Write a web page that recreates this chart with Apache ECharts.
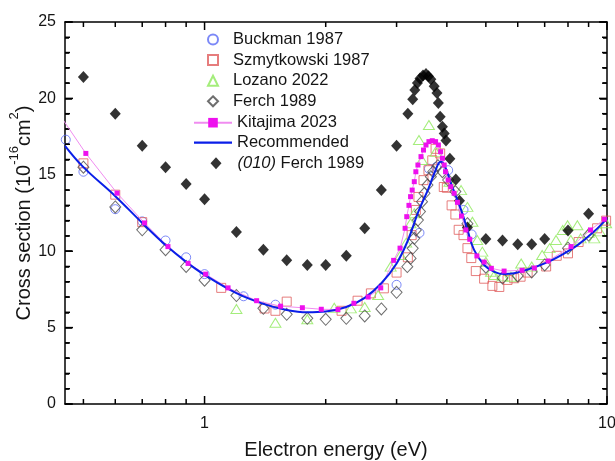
<!DOCTYPE html>
<html>
<head>
<meta charset="utf-8">
<script src="https://cdn.jsdelivr.net/npm/echarts@6/dist/echarts.min.js"></script>
<style>html,body{margin:0;padding:0;background:#fff}#c{width:615px;height:461px}</style>
</head>
<body>
<div id="c"></div>
<script>
// ---- data (energy in eV, cross section in 1e-16 cm^2) ----
const buckmanE = [0.452,0.5,0.6,0.7,0.8,0.9,1.0,1.25,1.5,3.0,3.42,3.61,3.76,4.03,4.4,4.61];
const buckmanS = [17.3,15.2,12.75,11.95,10.7,9.6,8.5,7.05,6.5,7.8,11.2,15.4,15.5,15.3,12.7,11.1];

const szmytE = [0.5,0.6,0.7,1.1,1.41,1.5,1.6,2.19,2.4,2.59,2.79,3.0,3.2,3.27,3.35,3.4,3.5,3.6,3.68,3.75,3.85,3.93,4.0,4.11,4.2,4.28,4.4,4.5,4.6,4.72,4.95,5.19,5.4,5.66,5.88,6.1,6.35,7.06,7.5,8.0,8.5,9.45,9.95];
const szmytS = [15.75,13.7,11.9,7.6,6.25,6.1,6.7,6.1,6.76,7.24,7.57,8.6,9.6,11.05,12.7,13.55,14.65,15.3,15.95,16.7,16.4,14.2,14.15,13.0,12.4,11.4,11.05,10.2,9.55,8.7,8.2,7.73,7.66,8.12,8.23,8.33,8.6,9.0,9.7,9.86,10.6,11.5,12.0];

const lozanoE = [1.2,1.5,1.8,2.1,2.31,2.5,2.7,2.9,3.07,3.17,3.25,3.32,3.41,3.47,3.61,3.75,4.06,4.34,4.5,4.63,4.76,4.9,5.0,5.15,5.25,5.5,5.77,6.12,6.5,6.9,7.2,7.47,7.76,7.98,8.13,8.44,8.6,9.0,9.3,9.6,9.95];
const lozanoS = [6.22,5.32,5.55,6.3,6.26,6.35,7.13,8.99,9.75,10.56,11.83,12.48,17.28,15.97,18.26,16.5,14.55,14.0,12.9,11.93,10.73,9.97,9.31,8.66,8.44,8.35,8.33,9.2,9.0,9.75,10.2,10.73,11.39,11.7,10.73,11.7,10.84,11.2,10.84,11.3,11.83];

const ferchE = [0.5,0.6,0.7,0.8,0.9,1.0,1.2,1.4,1.6,1.8,2.0,2.25,2.5,2.75,3.0,3.19,3.25,3.29,3.32,3.35,3.39,3.43,3.47,3.52,3.58,3.65,3.7,3.8,3.9,4.03,4.2,4.5,5.0,5.5,6.0,6.5,7.0,8.0,9.0];
const ferchS = [15.5,12.9,11.4,10.1,9.0,8.1,7.1,6.26,5.87,5.61,5.54,5.61,5.76,6.22,7.31,8.99,9.53,10.19,10.84,11.39,12.04,12.59,13.24,13.79,14.33,14.88,15.2,15.6,15.2,14.66,13.9,11.8,8.95,8.25,8.38,8.64,9.1,10.2,11.06];

const kitaE = [0.4,0.507,0.606,0.709,0.811,0.91,1.006,1.144,1.347,1.545,1.75,1.95,2.145,2.35,2.55,2.74,2.95,3.06,3.15,3.18,3.22,3.25,3.28,3.32,3.35,3.39,3.45,3.5,3.55,3.61,3.68,3.75,3.81,3.86,3.9,3.94,3.97,4.03,4.09,4.17,4.25,4.35,4.46,4.56,4.75,4.95,5.16,5.55,6.15,6.6,7.14,8.14,9.1,9.85];
const kitaS = [20.4,16.4,13.8,11.85,10.3,9.2,8.5,7.6,6.76,6.4,6.3,6.2,6.18,6.59,7.0,7.6,9.4,10.2,11.5,12.26,13.0,13.57,14.0,14.55,15.2,15.64,16.19,16.62,16.95,17.17,17.23,17.17,16.95,16.51,16.08,15.64,15.2,14.66,14.22,13.79,13.2,12.3,11.39,10.78,9.69,9.29,8.88,8.7,8.75,8.9,9.36,10.3,11.39,12.09];

const recE = [0.45,0.5,0.6,0.7,0.8,0.9,1.0,1.2,1.4,1.6,1.8,2.0,2.25,2.5,2.75,3.0,3.2,3.4,3.6,3.75,3.86,3.95,4.1,4.34,4.5,4.67,4.95,5.25,5.55,5.88,6.35,7.0,7.7,8.45,9.3,10];
const recS = [16.9,15.5,13.6,11.85,10.4,9.3,8.45,7.25,6.55,6.15,6.0,6.05,6.35,6.95,7.9,9.2,10.7,12.6,14.1,15.3,15.85,15.6,14.4,12.7,11.4,10.1,9.1,8.65,8.5,8.55,8.8,9.2,9.75,10.4,11.3,12.15];

const f010E = [0.5,0.6,0.7,0.8,0.9,1.0,1.2,1.4,1.6,1.8,2.0,2.25,2.5,2.75,3.0,3.2,3.29,3.33,3.38,3.43,3.49,3.55,3.6,3.65,3.72,3.78,3.81,3.85,3.9,3.94,3.98,4.07,4.21,4.3,4.5,5.0,5.5,6.0,6.5,7.0,8.0,9.0];
const f010S = [21.4,19.0,16.9,15.5,14.4,13.4,11.25,10.1,9.4,9.1,9.1,9.7,11.5,14.0,16.9,19.0,19.95,20.55,21.0,21.3,21.5,21.6,21.45,21.25,20.8,20.35,19.7,18.8,18.15,17.7,17.25,16.05,14.7,13.3,11.55,10.8,10.7,10.45,10.45,10.8,11.35,12.45];

// ---- axis ranges and tick values ----
const xMin = 0.45, xMax = 10, yMin = 0, yMax = 25;
const xLabels = [1, 10];
const xMajorTicks = [1, 10];
const xMinorTicks = [0.5,0.6,0.7,0.8,0.9,2,3,4,5,6,7,8,9];
const yMajorTicks = [0,5,10,15,20,25];
const yMinorTicks = [1,2,3,4,6,7,8,9,11,12,13,14,16,17,18,19,21,22,23,24];

const zip = (a, b) => a.map((v, i) => [v, b[i]]);
const FONT = 'Liberation Sans, Arial, sans-serif';
const TXT = '#151515';
const AX = '#000';
const LW = 1.5;

const chart = echarts.init(document.getElementById('c'));

// inward tick marks on all four sides, placed through the axes' own scales
function tickSeries(name, data, dir, len) {
  return {
    name: name, type: 'custom', coordinateSystem: 'cartesian2d', silent: true, z: 3, clip: false,
    encode: {x: 0, y: 1},
    data: data,
    renderItem: function (params, api) {
      const cs = params.coordSys;
      const p = api.coord([api.value(0), api.value(1)]);
      const st = {stroke: AX, lineWidth: LW, fill: null};
      if (dir === 'x') {
        const b = cs.y + cs.height, t = cs.y;
        return {type: 'group', children: [
          {type: 'line', shape: {x1: p[0], y1: b, x2: p[0], y2: b - len}, style: st},
          {type: 'line', shape: {x1: p[0], y1: t, x2: p[0], y2: t + len}, style: st}
        ]};
      }
      const l = cs.x, r = cs.x + cs.width;
      return {type: 'group', children: [
        {type: 'line', shape: {x1: l, y1: p[1], x2: l + len, y2: p[1]}, style: st},
        {type: 'line', shape: {x1: r, y1: p[1], x2: r - len, y2: p[1]}, style: st}
      ]};
    }
  };
}

const legText = {fontFamily: FONT, fontSize: 16.5, color: TXT, lineHeight: 18};
chart.setOption({
  backgroundColor: '#fff',
  animation: false,
  grid: {left: 65, right: 8, top: 22, bottom: 57, containLabel: false, outerBoundsMode: 'none'},
  legend: [
    {
      orient: 'vertical', left: 207, top: 30.5, padding: 0, itemWidth: 10, itemHeight: 10, itemGap: 2.6,
      textStyle: Object.assign({padding: [0, 0, 0, 10]}, legText),
      data: ['Buckman 1987','Szmytkowski 1987','Lozano 2022','Ferch 1989']
    },
    {
      orient: 'vertical', left: 193, top: 113.7, padding: 0, itemWidth: 38, itemHeight: 12, itemGap: 2,
      textStyle: Object.assign({padding: [0, 0, 0, 0]}, legText),
      data: ['Kitajima 2023', {name: 'Recommended', icon: 'path://M0,0L38,0L38,2.2L0,2.2Z', itemStyle: {borderWidth: 0}}]
    },
    {
      orient: 'vertical', left: 210.5, top: 154.3, padding: 0, itemWidth: 11, itemHeight: 12, itemGap: 2,
      textStyle: Object.assign({padding: [0, 0, 0, 11],
        rich: {i: {fontStyle: 'italic', fontFamily: FONT, fontSize: 16.5, color: TXT}}}, legText),
      formatter: () => '{i|(010)} Ferch 1989',
      data: ['(010) Ferch 1989']
    }
  ],
  xAxis: [
    {
      type: 'log', logBase: 10, min: xMin, max: xMax, position: 'bottom',
      axisLine: {show: true, onZero: false, lineStyle: {color: AX, width: LW}},
      axisTick: {show: false}, minorTick: {show: false}, splitLine: {show: false},
      name: 'Electron energy (eV)', nameLocation: 'middle', nameGap: 36, nameMoveOverlap: false,
      nameTextStyle: {fontFamily: FONT, fontSize: 20, color: TXT},
      axisLabel: {show: true, customValues: xLabels, margin: 12, fontFamily: FONT, fontSize: 16, color: TXT,
        formatter: v => String(Math.round(v))}
    },
    {
      type: 'log', logBase: 10, min: xMin, max: xMax, position: 'top',
      axisLine: {show: true, onZero: false, lineStyle: {color: AX, width: LW}},
      axisTick: {show: false}, axisLabel: {show: false}, minorTick: {show: false}, splitLine: {show: false}
    }
  ],
  yAxis: [
    {
      type: 'value', min: yMin, max: yMax, interval: 5, position: 'left',
      name: '{a|Cross section (10}{s|-16}{a|cm}{s|2}{a|)}', nameLocation: 'middle', nameGap: 31, nameRotate: 90,
      nameMoveOverlap: false,
      nameTextStyle: {fontFamily: FONT, fontSize: 20, color: TXT,
        rich: {a: {fontFamily: FONT, fontSize: 20, color: TXT, lineHeight: 26, verticalAlign: 'bottom'},
               s: {fontFamily: FONT, fontSize: 13, color: TXT, lineHeight: 26, verticalAlign: 'top'}}},
      axisLine: {show: true, lineStyle: {color: AX, width: LW}},
      axisTick: {show: true, inside: true, length: 7, lineStyle: {color: AX, width: LW}},
      minorTick: {show: true, splitNumber: 5, length: 4, lineStyle: {color: AX, width: LW}},
      splitLine: {show: false},
      axisLabel: {show: true, margin: 9, fontFamily: FONT, fontSize: 16, color: TXT}
    },
    {
      type: 'value', min: yMin, max: yMax, interval: 5, position: 'right',
      axisLine: {show: true, lineStyle: {color: AX, width: LW}},
      axisTick: {show: true, inside: true, length: 7, lineStyle: {color: AX, width: LW}},
      minorTick: {show: true, splitNumber: 5, length: 4, lineStyle: {color: AX, width: LW}},
      axisLabel: {show: false}, splitLine: {show: false}
    }
  ],
  series: [
    tickSeries('xMajor', xMajorTicks.map(v => [v, yMin]), 'x', 8),
    tickSeries('xMinor', xMinorTicks.map(v => [v, yMin]), 'x', 5),
    tickSeries('yMajor', yMajorTicks.map(v => [xMin, v]), 'y', 8),
    tickSeries('yMinor', yMinorTicks.map(v => [xMin, v]), 'y', 5),
    {name: 'Buckman 1987', type: 'scatter', symbol: 'circle', symbolSize: 9, data: zip(buckmanE, buckmanS),
     itemStyle: {color: 'rgba(0,0,0,0)', borderColor: '#5b6cf5', borderWidth: 1}},
    {name: 'Szmytkowski 1987', type: 'scatter', symbol: 'rect', symbolSize: 9, data: zip(szmytE, szmytS),
     itemStyle: {color: 'rgba(0,0,0,0)', borderColor: '#e05c5c', borderWidth: 1}},
    {name: 'Lozano 2022', type: 'scatter', symbol: 'triangle', symbolSize: [11, 9], data: zip(lozanoE, lozanoS),
     itemStyle: {color: 'rgba(0,0,0,0)', borderColor: '#8de85a', borderWidth: 1}},
    {name: 'Ferch 1989', type: 'scatter', symbol: 'diamond', symbolSize: [11, 12], data: zip(ferchE, ferchS),
     itemStyle: {color: 'rgba(0,0,0,0)', borderColor: '#4a4a4a', borderWidth: 1}},
    {name: 'Kitajima 2023', type: 'line', symbol: 'rect', symbolSize: 5, showAllSymbol: true, data: zip(kitaE, kitaS),
     lineStyle: {color: '#f08cf0', width: 1}, itemStyle: {color: '#ee10ee'}},
    {name: 'Recommended', type: 'line', smooth: 0.4, symbol: 'none', data: zip(recE, recS),
     lineStyle: {color: '#0a1ee8', width: 2}, itemStyle: {color: '#0a1ee8'}},
    {name: '(010) Ferch 1989', type: 'scatter', symbol: 'diamond', symbolSize: [11, 12], data: zip(f010E, f010S),
     itemStyle: {color: '#000'}}
  ]
});
</script>
</body>
</html>
